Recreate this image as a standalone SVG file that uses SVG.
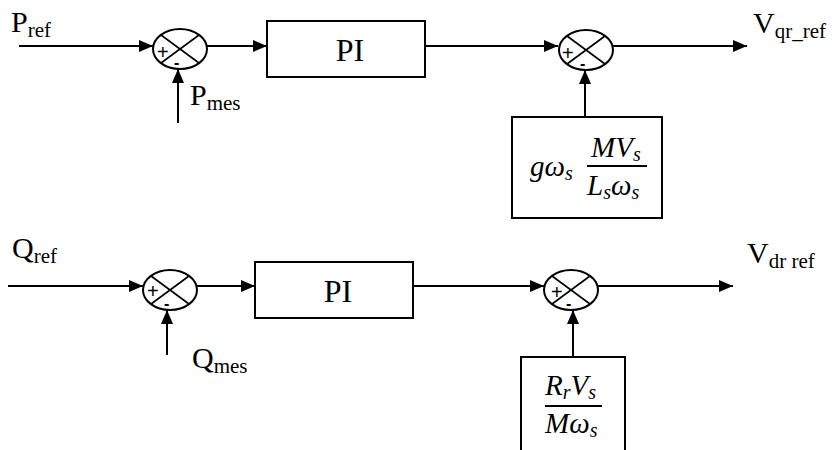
<svg xmlns="http://www.w3.org/2000/svg" width="836" height="450" viewBox="0 0 836 450">
<style>
.ln{stroke:#000;stroke-width:2;fill:none}
.bx{stroke:#000;stroke-width:2;fill:#fff}
.sum{stroke:#000;stroke-width:2;fill:#fff}
.cr{stroke:#000;stroke-width:1.6}
.t{font-family:"Liberation Serif","Times New Roman",serif;fill:#000}
.m{font-family:"Liberation Serif","Times New Roman",serif;font-style:italic;fill:#000}
.sg{font-family:"Liberation Sans",Arial,sans-serif;fill:#000}
.pl{font-size:20px}
.mi{font-size:16px;font-weight:bold}
</style>
<defs>
<marker id="ah" viewBox="0 0 14 12" refX="14" refY="6" markerWidth="14" markerHeight="12" markerUnits="userSpaceOnUse" orient="auto">
<path d="M0,0 L14,6 L0,12 Z" fill="#000"/>
</marker>
</defs>
<rect width="836" height="450" fill="#fff"/>
<g id="connectors">
<line class="ln" x1="19" y1="46" x2="153" y2="46" marker-end="url(#ah)"/>
<line class="ln" x1="207" y1="46" x2="267" y2="46" marker-end="url(#ah)"/>
<line class="ln" x1="425" y1="46" x2="558" y2="46" marker-end="url(#ah)"/>
<line class="ln" x1="613" y1="46" x2="747" y2="46" marker-end="url(#ah)"/>
<line class="ln" x1="178" y1="123" x2="178" y2="69" marker-end="url(#ah)"/>
<line class="ln" x1="585" y1="117" x2="585" y2="70" marker-end="url(#ah)"/>
<line class="ln" x1="8" y1="286" x2="143" y2="286" marker-end="url(#ah)"/>
<line class="ln" x1="197" y1="286" x2="255" y2="286" marker-end="url(#ah)"/>
<line class="ln" x1="413" y1="286" x2="544" y2="286" marker-end="url(#ah)"/>
<line class="ln" x1="598" y1="286" x2="733" y2="286" marker-end="url(#ah)"/>
<line class="ln" x1="167" y1="355" x2="167" y2="310" marker-end="url(#ah)"/>
<line class="ln" x1="573" y1="357" x2="573" y2="310" marker-end="url(#ah)"/>
</g>
<g id="sum1">
<ellipse class="sum" cx="180" cy="49" rx="27" ry="20"/>
<line class="cr" x1="161" y1="35" x2="199" y2="63"/>
<line class="cr" x1="199" y1="35" x2="161" y2="63"/>
<text class="sg pl" x="157" y="59">+</text>
<text class="sg mi" x="174" y="68">-</text>
</g>
<g id="pi1">
<rect class="bx" x="267" y="21" width="158" height="56"/>
<text class="t" x="350" y="61" font-size="32" text-anchor="middle">PI</text>
</g>
<g id="sum2">
<ellipse class="sum" cx="586" cy="50" rx="27" ry="20"/>
<line class="cr" x1="567" y1="36" x2="605" y2="64"/>
<line class="cr" x1="605" y1="36" x2="567" y2="64"/>
<text class="sg pl" x="562" y="60">+</text>
<text class="sg mi" x="580" y="69">-</text>
</g>
<g id="gain1">
<rect class="bx" x="512" y="117" width="150" height="101"/>
<text class="m" x="530" y="176" font-size="29">gω<tspan font-size="20" dy="4">s</tspan></text>
<line x1="587" y1="166" x2="647" y2="166" stroke="#000" stroke-width="2"/>
<text class="m" x="591" y="157" font-size="29">MV<tspan font-size="20" dy="4">s</tspan></text>
<text class="m" x="587" y="195" font-size="29">L<tspan font-size="20" dy="4">s</tspan><tspan dy="-4">ω</tspan><tspan font-size="20" dy="4">s</tspan></text>
</g>
<g id="sum3">
<ellipse class="sum" cx="170" cy="290" rx="27" ry="20"/>
<line class="cr" x1="151" y1="276" x2="189" y2="304"/>
<line class="cr" x1="189" y1="276" x2="151" y2="304"/>
<text class="sg pl" x="147" y="298">+</text>
<text class="sg mi" x="164" y="309">-</text>
</g>
<g id="pi2">
<rect class="bx" x="255" y="262" width="158" height="56"/>
<text class="t" x="338" y="302" font-size="32" text-anchor="middle">PI</text>
</g>
<g id="sum4">
<ellipse class="sum" cx="571" cy="290" rx="27" ry="20"/>
<line class="cr" x1="552" y1="276" x2="590" y2="304"/>
<line class="cr" x1="590" y1="276" x2="552" y2="304"/>
<text class="sg pl" x="551" y="299">+</text>
<text class="sg mi" x="566" y="309">-</text>
</g>
<g id="gain2">
<rect class="bx" x="521" y="357" width="104" height="100"/>
<text class="m" x="545" y="395" font-size="29">R<tspan font-size="20" dy="4">r</tspan><tspan dy="-4">V</tspan><tspan font-size="20" dy="4">s</tspan></text>
<line x1="545" y1="406" x2="602" y2="406" stroke="#000" stroke-width="2"/>
<text class="m" x="545" y="433" font-size="29">Mω<tspan font-size="20" dy="4">s</tspan></text>
</g>
<g id="labels">
<text class="t" x="11" y="32" font-size="30">P<tspan font-size="21" dy="5">ref</tspan></text>
<text class="t" x="190" y="105" font-size="30">P<tspan font-size="21" dy="5">mes</tspan></text>
<text class="t" x="753" y="33" font-size="30">V<tspan font-size="21" dy="5">qr_ref</tspan></text>
<text class="t" x="12" y="258" font-size="30">Q<tspan font-size="21" dy="5">ref</tspan></text>
<text class="t" x="192" y="368" font-size="30">Q<tspan font-size="21" dy="5">mes</tspan></text>
<text class="t" x="747" y="263" font-size="30">V<tspan font-size="21" dy="5">dr ref</tspan></text>
</g>
</svg>
